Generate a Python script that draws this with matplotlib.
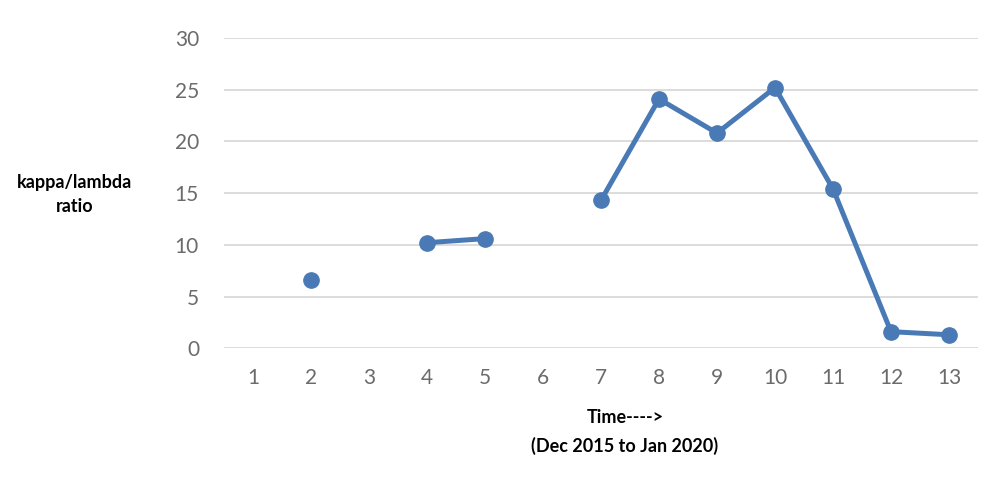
import numpy as np
import matplotlib
matplotlib.use("Agg")
from matplotlib import pyplot as plt

# data (gaps = missing months)
time_points = list(range(1, 14))
kappa_lambda = [np.nan, 6.6, np.nan, 10.2, 10.6, np.nan, 14.3, 24.1, 20.8, 25.2, 15.4, 1.6, 1.3]
y_ticks = [0, 5, 10, 15, 20, 25, 30]

plt.rcParams['font.family'] = ['Lato', 'DejaVu Sans']

fig = plt.figure(figsize=(10, 4.87), dpi=100)
ax = fig.add_axes([0.224, 0.285, 0.754, 0.637])

ax.plot(time_points, kappa_lambda, color='#4a7ab5', linewidth=3.6,
        marker='o', markersize=11, solid_capstyle='round')

ax.set_xlim(0.5, 13.5)
ax.set_ylim(0, 30)
ax.set_xticks(time_points)
ax.set_yticks(y_ticks)
ax.yaxis.grid(True, color='#d9d9d9', linewidth=1.3)
ax.set_axisbelow(True)
for s in ax.spines.values():
    s.set_visible(False)
ax.tick_params(length=0, labelsize=15, colors='#6b6b6b')
ax.tick_params(axis='y', pad=18)
ax.tick_params(axis='x', pad=14)

fig.text(0.075, 0.6, 'kappa/lambda\nratio', ha='center', va='center',
         fontsize=13, fontweight='bold', color='black', linespacing=1.5)
fig.text(0.625, 0.113, 'Time---->\n(Dec 2015 to Jan 2020)', ha='center', va='center',
         fontsize=13, fontweight='bold', color='black', linespacing=1.75)

fig.savefig('out.png', dpi=100, facecolor='white')
